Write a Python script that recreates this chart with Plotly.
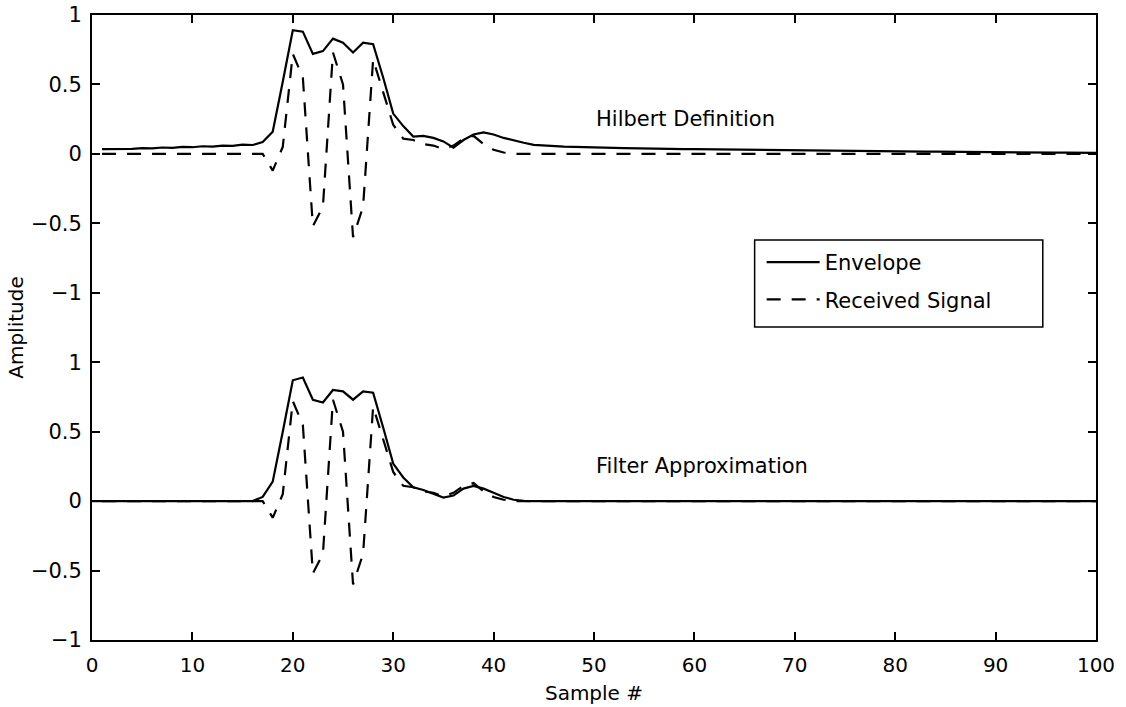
import plotly.graph_objects as go

# ---------------- data ----------------
samples_top = list(range(1, 101))
samples_bottom = list(range(0, 101))

hilbert_envelope = [
    0.035, 0.035, 0.038, 0.036, 0.042, 0.040, 0.046, 0.044, 0.050, 0.048,
    0.055, 0.052, 0.060, 0.058, 0.066, 0.064, 0.085, 0.160, 0.520, 0.890,
    0.880, 0.720, 0.740, 0.830, 0.800, 0.730, 0.800, 0.790, 0.550, 0.290,
    0.200, 0.125, 0.130, 0.115, 0.090, 0.045, 0.100, 0.140, 0.155, 0.140,
    0.115, 0.095, 0.080, 0.065, 0.060, 0.056, 0.053, 0.051, 0.048, 0.046,
    0.045, 0.043, 0.042, 0.040, 0.040, 0.038, 0.037, 0.036, 0.035, 0.034,
    0.033, 0.032, 0.031, 0.030, 0.030, 0.029, 0.028, 0.027, 0.026, 0.026,
    0.025, 0.024, 0.024, 0.023, 0.022, 0.021, 0.021, 0.020, 0.019, 0.018,
    0.018, 0.017, 0.016, 0.016, 0.015, 0.014, 0.014, 0.013, 0.013, 0.012,
    0.012, 0.011, 0.011, 0.010, 0.010, 0.009, 0.009, 0.008, 0.008, 0.008,
]

received_signal = [
    0.0, 0.0, 0.0, 0.0, 0.0, 0.0, 0.0, 0.0, 0.0, 0.0,
    0.0, 0.0, 0.0, 0.0, 0.0, 0.0, 0.0, -0.12, 0.05, 0.72,
    0.55, -0.52, -0.38, 0.73, 0.50, -0.60, -0.38, 0.68, 0.45, 0.21,
    0.11, 0.10, 0.07, 0.06, 0.035, 0.06, 0.11, 0.13, 0.07, 0.03,
    0.01, 0.0, 0.0, 0.0, 0.0, 0.0, 0.0, 0.0, 0.0, 0.0,
    0.0, 0.0, 0.0, 0.0, 0.0, 0.0, 0.0, 0.0, 0.0, 0.0,
    0.0, 0.0, 0.0, 0.0, 0.0, 0.0, 0.0, 0.0, 0.0, 0.0,
    0.0, 0.0, 0.0, 0.0, 0.0, 0.0, 0.0, 0.0, 0.0, 0.0,
    0.0, 0.0, 0.0, 0.0, 0.0, 0.0, 0.0, 0.0, 0.0, 0.0,
    0.0, 0.0, 0.0, 0.0, 0.0, 0.0, 0.0, 0.0, 0.0, 0.0,
]

filter_envelope = [
    0.0, 0.0, 0.0, 0.0, 0.0, 0.0, 0.0, 0.0, 0.0, 0.0,
    0.0, 0.0, 0.0, 0.0, 0.0, 0.0, 0.0, 0.030, 0.140, 0.500,
    0.870, 0.890, 0.730, 0.710, 0.800, 0.790, 0.730, 0.790, 0.780, 0.530,
    0.270, 0.170, 0.100, 0.080, 0.050, 0.025, 0.040, 0.090, 0.110, 0.090,
    0.060, 0.030, 0.010, 0.002, 0.0, 0.0, 0.0, 0.0, 0.0, 0.0,
    0.0, 0.0, 0.0, 0.0, 0.0, 0.0, 0.0, 0.0, 0.0, 0.0,
    0.0, 0.0, 0.0, 0.0, 0.0, 0.0, 0.0, 0.0, 0.0, 0.0,
    0.0, 0.0, 0.0, 0.0, 0.0, 0.0, 0.0, 0.0, 0.0, 0.0,
    0.0, 0.0, 0.0, 0.0, 0.0, 0.0, 0.0, 0.0, 0.0, 0.0,
    0.0, 0.0, 0.0, 0.0, 0.0, 0.0, 0.0, 0.0, 0.0, 0.0,
    0.0,
]

amp_ticks = [-1, -0.5, 0, 0.5, 1]
x_ticks = [0, 10, 20, 30, 40, 50, 60, 70, 80, 90, 100]
panel_labels = ["Hilbert Definition", "Filter Approximation"]
legend_names = ["Envelope", "Received Signal"]

# ---------------- layout helpers ----------------
TOP_OFFSET = 2.5  # top panel stacked above bottom panel on one axis
FONT = "DejaVu Sans"
LW = 2.2
DASH = "14px,11px"


def fmt(v):
    return f"{v:g}".replace("-", "\u2212")


tickvals = [v for v in amp_ticks] + [v + TOP_OFFSET for v in amp_ticks]
ticktext = [fmt(v) for v in amp_ticks] * 2

fig = go.Figure()

# top panel (Hilbert)
fig.add_trace(go.Scatter(
    x=samples_top, y=[v + TOP_OFFSET for v in hilbert_envelope],
    mode="lines", name=legend_names[0], legendgroup="env",
    line=dict(color="black", width=LW)))
fig.add_trace(go.Scatter(
    x=samples_top, y=[v + TOP_OFFSET for v in received_signal],
    mode="lines", name=legend_names[1], legendgroup="rec",
    line=dict(color="black", width=LW, dash=DASH)))

# bottom panel (filter)
fig.add_trace(go.Scatter(
    x=samples_bottom, y=filter_envelope,
    mode="lines", name=legend_names[0], legendgroup="env", showlegend=False,
    line=dict(color="black", width=LW)))
fig.add_trace(go.Scatter(
    x=samples_top, y=received_signal,
    mode="lines", name=legend_names[1], legendgroup="rec", showlegend=False,
    line=dict(color="black", width=LW, dash=DASH)))

fig.add_annotation(x=50, y=0.25 + TOP_OFFSET, text=panel_labels[0],
                   showarrow=False, xanchor="left", yanchor="middle",
                   font=dict(family=FONT, size=21, color="black"))
fig.add_annotation(x=50, y=0.25, text=panel_labels[1],
                   showarrow=False, xanchor="left", yanchor="middle",
                   font=dict(family=FONT, size=21, color="black"))

# legend box
fig.add_shape(type="rect", xref="paper", yref="paper",
              x0=0.660, x1=0.947, y0=0.501, y1=0.640,
              line=dict(color="black", width=1.5), fillcolor="white",
              layer="below")

fig.update_layout(
    template="none",
    width=1126, height=707,
    margin=dict(l=92, r=30, t=15, b=67, pad=0),
    paper_bgcolor="white", plot_bgcolor="white",
    font=dict(family=FONT, size=20, color="black"),
    showlegend=True,
    legend=dict(x=0.667, y=0.637, xanchor="left", yanchor="top",
                bgcolor="rgba(0,0,0,0)", borderwidth=0,
                font=dict(family=FONT, size=21, color="black"),
                tracegroupgap=7, traceorder="grouped", itemwidth=53),
    xaxis=dict(range=[0, 100], tickvals=x_ticks, ticks="inside", ticklen=8,
               tickwidth=1.5, tickcolor="black",
               showline=True, linecolor="black", linewidth=1.8, mirror="ticks",
               showgrid=False, zeroline=False, automargin=False,
               tickfont=dict(family=FONT, size=20, color="black"),
               ticklabelstandoff=6, ticklabeloverflow="allow",
               title=dict(text="Sample #", standoff=10,
                          font=dict(family=FONT, size=20, color="black"))),
    yaxis=dict(range=[-1, 3.5], tickvals=tickvals, ticktext=ticktext,
               ticks="inside", ticklen=8, tickwidth=1.5, tickcolor="black",
               showline=True, linecolor="black", linewidth=1.8, mirror="ticks",
               showgrid=False, zeroline=False, automargin=False,
               tickfont=dict(family=FONT, size=21, color="black"),
               ticklabelstandoff=4, ticklabeloverflow="allow",
               title=dict(text="Amplitude", standoff=2,
                          font=dict(family=FONT, size=20, color="black"))),
)

fig.write_html("out.html",
               config={"displayModeBar": False},
               post_script="document.body.style.margin='0';"
                           "document.body.style.overflow='hidden';")
